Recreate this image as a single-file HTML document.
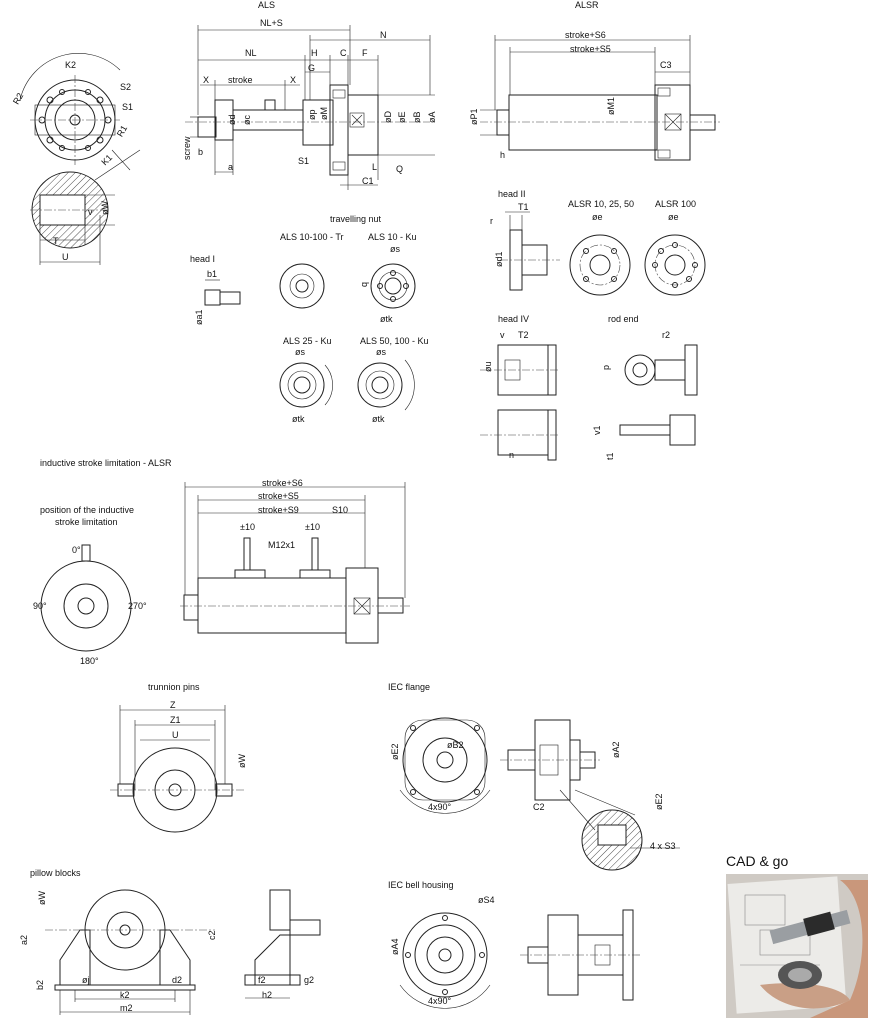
<!DOCTYPE html>
<html><head><meta charset="utf-8"><style>
html,body{margin:0;padding:0;background:#fff;}
svg{display:block;font-family:"Liberation Sans",sans-serif;}
text{font-size:9px;fill:#111;}
.s{stroke:#222;fill:none;stroke-width:1}
.t{stroke:#222;fill:none;stroke-width:0.6}
.w{stroke:#222;fill:#fff;stroke-width:1}
.d{stroke:#444;fill:none;stroke-width:0.6;stroke-dasharray:8 2 2 2}
</style></head><body>
<svg width="890" height="1034" viewBox="0 0 890 1034" xmlns="http://www.w3.org/2000/svg">
<defs>
<pattern id="h" width="5" height="5" patternUnits="userSpaceOnUse" patternTransform="rotate(45)"><line x1="0" y1="0" x2="0" y2="5" stroke="#222" stroke-width="0.8"/></pattern>
</defs>
<text x="258" y="8">ALS</text><text x="575" y="8">ALSR</text>

<!-- top-left flange -->
<circle cx="75" cy="120" r="40" class="s"/><circle cx="75" cy="120" r="30" class="s"/>
<circle cx="75" cy="120" r="20" class="s"/><circle cx="75" cy="120" r="5" class="s"/>
<rect x="35" y="105" width="80" height="30" class="t"/>
<g class="s"><circle cx="50" cy="100" r="3"/><circle cx="100" cy="100" r="3"/><circle cx="50" cy="140" r="3"/><circle cx="100" cy="140" r="3"/><circle cx="42" cy="120" r="3"/><circle cx="108" cy="120" r="3"/><circle cx="62" cy="92" r="2.5"/><circle cx="88" cy="92" r="2.5"/><circle cx="62" cy="148" r="2.5"/><circle cx="88" cy="148" r="2.5"/></g>
<line x1="30" y1="120" x2="120" y2="120" class="d"/><line x1="75" y1="75" x2="75" y2="165" class="d"/>
<path d="M20,100 A60,60 0 0 1 120,70" class="t"/><path d="M95,180 L140,150" class="t"/><path d="M112,150 L130,170" class="t"/>
<text x="65" y="68">K2</text><text x="120" y="90">S2</text><text x="122" y="110">S1</text><text x="12" y="105" transform="rotate(-60 15 100)">R2</text><text x="118" y="135" transform="rotate(-60 122 133)">R1</text><text x="103" y="165" transform="rotate(-45 105 163)">K1</text>
<circle cx="70" cy="210" r="38" class="s" style="fill:url(#h)"/>
<rect x="40" y="195" width="45" height="30" class="w"/>
<line x1="30" y1="210" x2="110" y2="210" class="d"/>
<line x1="40" y1="225" x2="40" y2="265" class="t"/><line x1="85" y1="225" x2="85" y2="245" class="t"/><line x1="100" y1="215" x2="100" y2="265" class="t"/>
<line x1="85" y1="195" x2="115" y2="195" class="t"/><line x1="85" y1="225" x2="115" y2="225" class="t"/>
<text x="88" y="215">v</text><text x="105" y="218" transform="rotate(-90 105 215)">øW</text>
<line x1="40" y1="240" x2="85" y2="240" class="t"/><text x="53" y="244">T</text>
<line x1="40" y1="262" x2="100" y2="262" class="t"/><text x="62" y="260">U</text>

<!-- ALS -->
<g>
<line x1="198" y1="30" x2="350" y2="30" class="t"/><text x="260" y="26">NL+S</text>
<line x1="198" y1="60" x2="305" y2="60" class="t"/><text x="245" y="56">NL</text>
<line x1="310" y1="40" x2="430" y2="40" class="t"/><text x="380" y="38">N</text>
<line x1="198" y1="25" x2="198" y2="115" class="t"/><line x1="350" y1="25" x2="350" y2="85" class="t"/>
<line x1="430" y1="35" x2="430" y2="95" class="t"/><line x1="310" y1="35" x2="310" y2="100" class="t"/>
<line x1="305" y1="55" x2="305" y2="100" class="t"/><line x1="330" y1="55" x2="330" y2="85" class="t"/><line x1="348" y1="55" x2="348" y2="85" class="t"/><line x1="378" y1="55" x2="378" y2="95" class="t"/>
<line x1="305" y1="60" x2="378" y2="60" class="t"/><line x1="305" y1="72" x2="330" y2="72" class="t"/>
<text x="311" y="56">H</text><text x="340" y="56">C</text><text x="362" y="56">F</text><text x="308" y="71">G</text>
<line x1="200" y1="85" x2="300" y2="85" class="t"/><text x="203" y="83">X</text><text x="228" y="83">stroke</text><text x="290" y="83">X</text>
<line x1="215" y1="80" x2="215" y2="100" class="t"/><line x1="285" y1="80" x2="285" y2="110" class="t"/>
<rect x="198" y="117" width="18" height="20" class="s"/><rect x="215" y="100" width="18" height="40" class="s"/>
<rect x="233" y="110" width="70" height="20" class="s"/><rect x="265" y="100" width="10" height="10" class="s"/>
<rect x="303" y="100" width="30" height="45" class="s"/><rect x="330" y="85" width="18" height="90" class="s"/>
<rect x="348" y="95" width="30" height="60" class="s"/>
<rect x="333" y="90" width="12" height="8" class="t"/><rect x="333" y="162" width="12" height="8" class="t"/>
<path d="M352,115 L362,125 M362,115 L352,125" class="t"/><rect x="350" y="113" width="14" height="14" class="t"/>
<line x1="378" y1="95" x2="435" y2="95" class="t"/><line x1="378" y1="155" x2="435" y2="155" class="t"/>
<line x1="185" y1="122" x2="430" y2="122" class="d"/>
<line x1="215" y1="140" x2="215" y2="175" class="t"/><line x1="233" y1="140" x2="233" y2="175" class="t"/><line x1="215" y1="172" x2="233" y2="172" class="t"/>
<line x1="190" y1="137" x2="215" y2="137" class="t"/><line x1="190" y1="117" x2="198" y2="117" class="t"/>
<line x1="348" y1="155" x2="348" y2="190" class="t"/><line x1="378" y1="155" x2="378" y2="180" class="t"/><line x1="340" y1="185" x2="378" y2="185" class="t"/>
<text x="230" y="130" transform="rotate(-90 230 125)">ød</text><text x="245" y="130" transform="rotate(-90 245 125)">øc</text>
<text x="310" y="125" transform="rotate(-90 310 120)">øp</text><text x="322" y="125" transform="rotate(-90 322 120)">øM</text>
<text x="386" y="128" transform="rotate(-90 386 123)">øD</text><text x="400" y="128" transform="rotate(-90 400 123)">øE</text>
<text x="415" y="128" transform="rotate(-90 415 123)">øB</text><text x="430" y="128" transform="rotate(-90 430 123)">øA</text>
<text x="180" y="170" transform="rotate(-90 180 160)">screw</text><text x="198" y="155">b</text><text x="228" y="170">a</text>
<text x="298" y="164">S1</text><text x="372" y="170">L</text><text x="362" y="184">C1</text><text x="396" y="172">Q</text>
</g>

<!-- ALSR -->
<line x1="495" y1="40" x2="690" y2="40" class="t"/><text x="565" y="38">stroke+S6</text>
<line x1="510" y1="52" x2="655" y2="52" class="t"/><text x="570" y="52">stroke+S5</text>
<line x1="495" y1="35" x2="495" y2="110" class="t"/><line x1="690" y1="35" x2="690" y2="85" class="t"/>
<line x1="510" y1="47" x2="510" y2="95" class="t"/><line x1="655" y1="47" x2="655" y2="85" class="t"/>
<line x1="655" y1="72" x2="690" y2="72" class="t"/>
<text x="660" y="68">C3</text>
<rect x="497" y="110" width="12" height="25" class="s"/>
<rect x="509" y="95" width="148" height="55" class="s"/>
<rect x="655" y="85" width="35" height="75" class="s"/>
<rect x="690" y="115" width="25" height="15" class="s"/>
<rect x="658" y="88" width="12" height="8" class="t"/><rect x="658" y="150" width="12" height="8" class="t"/>
<rect x="665" y="114" width="16" height="16" class="t"/><path d="M665,114 L681,130 M681,114 L665,130" class="t"/>
<line x1="480" y1="122" x2="720" y2="122" class="d"/>
<line x1="480" y1="110" x2="497" y2="110" class="t"/><line x1="480" y1="135" x2="497" y2="135" class="t"/>
<text x="470" y="132" transform="rotate(-90 470 125)">øP1</text><text x="604" y="125" transform="rotate(-90 604 115)">øM1</text><text x="500" y="158">h</text>

<!-- heads -->
<text x="498" y="197">head II</text><text x="518" y="210">T1</text><text x="490" y="224">r</text>
<rect x="510" y="230" width="12" height="60" class="s"/><rect x="522" y="245" width="25" height="30" class="s"/>
<line x1="510" y1="215" x2="510" y2="230" class="t"/><line x1="522" y1="215" x2="522" y2="230" class="t"/><line x1="505" y1="212" x2="530" y2="212" class="t"/>
<line x1="500" y1="260" x2="560" y2="260" class="d"/>
<text x="490" y="275" transform="rotate(-90 492 265)">ød1</text>
<text x="568" y="207">ALSR 10, 25, 50</text><text x="655" y="207">ALSR 100</text>
<text x="592" y="220">øe</text><text x="668" y="220">øe</text>
<circle cx="600" cy="265" r="30" class="s"/><circle cx="600" cy="265" r="10" class="s"/><circle cx="600" cy="265" r="20" class="d"/>
<circle cx="586" cy="251" r="2.5" class="s"/><circle cx="614" cy="251" r="2.5" class="s"/><circle cx="586" cy="279" r="2.5" class="s"/><circle cx="614" cy="279" r="2.5" class="s"/>
<circle cx="675" cy="265" r="30" class="s"/><circle cx="675" cy="265" r="10" class="s"/><circle cx="675" cy="265" r="20" class="d"/>
<circle cx="675" cy="245" r="2.5" class="s"/><circle cx="675" cy="285" r="2.5" class="s"/><circle cx="655" cy="265" r="2.5" class="s"/><circle cx="695" cy="265" r="2.5" class="s"/><circle cx="661" cy="251" r="2.5" class="s"/><circle cx="689" cy="279" r="2.5" class="s"/>
<text x="498" y="322">head IV</text><text x="608" y="322">rod end</text>
<rect x="498" y="345" width="50" height="50" class="s"/><rect x="548" y="345" width="8" height="50" class="s"/>
<rect x="505" y="360" width="15" height="20" class="t"/>
<rect x="498" y="410" width="50" height="45" class="s"/><rect x="548" y="410" width="8" height="50" class="s"/>
<line x1="480" y1="370" x2="560" y2="370" class="d"/><line x1="480" y1="435" x2="560" y2="435" class="d"/>
<text x="485" y="378" transform="rotate(-90 485 372)">øu</text><text x="509" y="458">n</text>
<text x="500" y="338">v</text><text x="518" y="338">T2</text>
<circle cx="640" cy="370" r="15" class="s"/><circle cx="640" cy="370" r="7" class="s"/><rect x="655" y="360" width="30" height="20" class="s"/><rect x="685" y="345" width="12" height="50" class="s"/>
<rect x="620" y="425" width="50" height="10" class="s"/><rect x="670" y="415" width="25" height="30" class="s"/>
<text x="662" y="338">r2</text><text x="607" y="372" transform="rotate(-90 607 370)">p</text>
<text x="595" y="440" transform="rotate(-90 595 435)">v1</text><text x="608" y="465" transform="rotate(-90 608 460)">t1</text>

<!-- head I + travelling nut -->
<text x="190" y="262">head I</text><text x="207" y="277">b1</text>
<rect x="205" y="290" width="15" height="15" class="s"/><rect x="220" y="292" width="20" height="12" class="s"/>
<line x1="205" y1="280" x2="220" y2="280" class="t"/>
<text x="192" y="335" transform="rotate(-90 192 325)">øa1</text>
<text x="330" y="222">travelling nut</text><text x="280" y="240">ALS 10-100 - Tr</text><text x="368" y="240">ALS 10 - Ku</text>
<circle cx="302" cy="286" r="22" class="s"/><circle cx="302" cy="286" r="12" class="t"/><circle cx="302" cy="286" r="6" class="s"/>
<circle cx="393" cy="286" r="22" class="s"/><circle cx="393" cy="286" r="8" class="s"/><circle cx="393" cy="286" r="14" class="t"/>
<circle cx="380" cy="286" r="2.5" class="s"/><circle cx="406" cy="286" r="2.5" class="s"/><circle cx="393" cy="273" r="2.5" class="s"/><circle cx="393" cy="299" r="2.5" class="s"/>
<text x="390" y="252">øs</text><text x="380" y="322">øtk</text><text x="360" y="290" transform="rotate(-90 362 285)">q</text>
<text x="283" y="344">ALS 25 - Ku</text><text x="360" y="344">ALS 50, 100 - Ku</text>
<circle cx="302" cy="385" r="22" class="s"/><circle cx="302" cy="385" r="8" class="s"/><circle cx="302" cy="385" r="14" class="t"/>
<circle cx="380" cy="385" r="22" class="s"/><circle cx="380" cy="385" r="8" class="s"/><circle cx="380" cy="385" r="14" class="t"/>
<path d="M325,365 A30,30 0 0 1 325,405" class="t"/><path d="M405,360 A38,38 0 0 1 405,410" class="t"/>
<text x="295" y="355">øs</text><text x="376" y="355">øs</text><text x="292" y="422">øtk</text><text x="372" y="422">øtk</text>

<!-- inductive -->
<text x="40" y="466">inductive stroke limitation - ALSR</text>
<text x="40" y="513">position of the inductive</text><text x="55" y="525">stroke limitation</text>
<circle cx="86" cy="606" r="45" class="s"/><circle cx="86" cy="606" r="22" class="s"/><circle cx="86" cy="606" r="8" class="s"/>
<rect x="82" y="545" width="8" height="16" class="s"/>
<text x="72" y="553">0°</text><text x="33" y="609">90°</text><text x="128" y="609">270°</text><text x="80" y="664">180°</text>
<line x1="185" y1="487" x2="405" y2="487" class="t"/><text x="262" y="486">stroke+S6</text>
<line x1="198" y1="500" x2="365" y2="500" class="t"/><text x="258" y="499">stroke+S5</text>
<line x1="198" y1="513" x2="365" y2="513" class="t"/><text x="258" y="513">stroke+S9</text><text x="332" y="513">S10</text>
<line x1="185" y1="482" x2="185" y2="595" class="t"/><line x1="198" y1="495" x2="198" y2="578" class="t"/><line x1="405" y1="482" x2="405" y2="598" class="t"/><line x1="365" y1="495" x2="365" y2="568" class="t"/>
<text x="240" y="530">±10</text><text x="305" y="530">±10</text><text x="268" y="548">M12x1</text>
<rect x="184" y="595" width="14" height="25" class="s"/><rect x="198" y="578" width="148" height="55" class="s"/>
<rect x="235" y="570" width="30" height="8" class="s"/><rect x="300" y="570" width="30" height="8" class="s"/>
<rect x="244" y="538" width="6" height="32" class="s"/><rect x="312" y="538" width="6" height="32" class="s"/>
<rect x="346" y="568" width="32" height="75" class="s"/><rect x="378" y="598" width="25" height="15" class="s"/>
<rect x="354" y="598" width="16" height="16" class="t"/><path d="M354,598 L370,614 M370,598 L354,614" class="t"/>
<line x1="180" y1="606" x2="410" y2="606" class="d"/>

<!-- trunnion -->
<text x="148" y="690">trunnion pins</text>
<line x1="120" y1="710" x2="225" y2="710" class="t"/><text x="170" y="708">Z</text>
<line x1="135" y1="725" x2="215" y2="725" class="t"/><text x="170" y="723">Z1</text>
<line x1="140" y1="740" x2="210" y2="740" class="t"/><text x="172" y="738">U</text>
<line x1="120" y1="705" x2="120" y2="784" class="t"/><line x1="225" y1="705" x2="225" y2="784" class="t"/>
<line x1="135" y1="720" x2="135" y2="790" class="t"/><line x1="215" y1="720" x2="215" y2="790" class="t"/>
<circle cx="175" cy="790" r="42" class="s"/><circle cx="175" cy="790" r="20" class="s"/><circle cx="175" cy="790" r="6" class="s"/>
<rect x="118" y="784" width="16" height="12" class="s"/><rect x="216" y="784" width="16" height="12" class="s"/>
<line x1="110" y1="790" x2="245" y2="790" class="d"/>
<text x="238" y="775" transform="rotate(-90 238 768)">øW</text>

<!-- IEC flange -->
<text x="388" y="690">IEC flange</text>
<circle cx="445" cy="760" r="42" class="s"/><circle cx="445" cy="760" r="22" class="s"/><circle cx="445" cy="760" r="8" class="s"/>
<rect x="405" y="720" width="80" height="80" rx="18" class="t"/>
<circle cx="413" cy="728" r="2.5" class="s"/><circle cx="477" cy="728" r="2.5" class="s"/><circle cx="413" cy="792" r="2.5" class="s"/><circle cx="477" cy="792" r="2.5" class="s"/>
<path d="M400,790 A55,55 0 0 0 490,790" class="t"/>
<text x="388" y="770" transform="rotate(-90 388 760)">øE2</text><text x="447" y="748">øB2</text><text x="428" y="810">4x90°</text>
<rect x="535" y="720" width="35" height="80" class="s"/><rect x="570" y="740" width="10" height="40" class="s"/>
<rect x="508" y="750" width="27" height="20" class="s"/><rect x="580" y="752" width="15" height="16" class="s"/>
<rect x="540" y="745" width="18" height="30" class="t"/>
<line x1="500" y1="760" x2="600" y2="760" class="d"/>
<line x1="560" y1="790" x2="595" y2="830" class="t"/><line x1="575" y1="790" x2="635" y2="815" class="t"/>
<text x="612" y="765" transform="rotate(-90 612 758)">øA2</text><text x="533" y="810">C2</text>
<circle cx="612" cy="840" r="30" class="s" style="fill:url(#h)"/><rect x="598" y="825" width="28" height="20" class="w"/>
<line x1="630" y1="848" x2="680" y2="848" class="t"/>
<text x="652" y="820" transform="rotate(-90 652 810)">øE2</text><text x="650" y="849">4 x S3</text>

<!-- pillow blocks -->
<text x="30" y="876">pillow blocks</text>
<circle cx="125" cy="930" r="40" class="s"/><circle cx="125" cy="930" r="18" class="s"/><circle cx="125" cy="930" r="5" class="s"/>
<path d="M60,985 L60,960 L80,930 L90,930 L90,985 Z M160,985 L160,930 L170,930 L190,960 L190,985 Z" class="s"/>
<rect x="55" y="985" width="140" height="5" class="s"/>
<line x1="45" y1="930" x2="215" y2="930" class="d"/>
<line x1="60" y1="990" x2="60" y2="1015" class="t"/><line x1="190" y1="990" x2="190" y2="1015" class="t"/><line x1="60" y1="1012" x2="190" y2="1012" class="t"/>
<line x1="75" y1="990" x2="75" y2="1002" class="t"/><line x1="175" y1="990" x2="175" y2="1002" class="t"/><line x1="75" y1="999" x2="175" y2="999" class="t"/>
<text x="38" y="912" transform="rotate(-90 38 905)">øW</text><text x="22" y="950" transform="rotate(-90 22 945)">a2</text>
<text x="38" y="995" transform="rotate(-90 38 990)">b2</text><text x="205" y="950" transform="rotate(-90 205 940)">c2</text>
<text x="82" y="983">øj</text><text x="172" y="983">d2</text><text x="120" y="998">k2</text><text x="120" y="1011">m2</text>
<rect x="270" y="890" width="20" height="40" class="s"/><rect x="290" y="920" width="30" height="15" class="s"/>
<path d="M255,985 L255,960 L280,935 L290,935 L290,985 Z" class="s"/><rect x="245" y="975" width="55" height="10" class="s"/>
<line x1="245" y1="998" x2="290" y2="998" class="t"/>
<text x="258" y="983">f2</text><text x="262" y="998">h2</text><text x="304" y="983">g2</text>

<!-- IEC bell housing -->
<text x="388" y="888">IEC bell housing</text><text x="478" y="903">øS4</text>
<circle cx="445" cy="955" r="42" class="s"/><circle cx="445" cy="955" r="30" class="s"/><circle cx="445" cy="955" r="18" class="s"/><circle cx="445" cy="955" r="6" class="s"/>
<circle cx="445" cy="918" r="2.5" class="s"/><circle cx="445" cy="992" r="2.5" class="s"/><circle cx="408" cy="955" r="2.5" class="s"/><circle cx="482" cy="955" r="2.5" class="s"/>
<path d="M400,985 A55,55 0 0 0 490,985" class="t"/>
<text x="388" y="965" transform="rotate(-90 388 955)">øA4</text><text x="428" y="1004">4x90°</text>
<rect x="548" y="915" width="30" height="80" class="s"/><rect x="578" y="935" width="45" height="40" class="s"/>
<rect x="623" y="910" width="10" height="90" class="s"/><rect x="528" y="947" width="20" height="16" class="s"/>
<rect x="595" y="945" width="15" height="20" class="t"/>
<line x1="520" y1="955" x2="640" y2="955" class="d"/>

<!-- CAD & go -->
<text x="726" y="866" style="font-size:14px">CAD &amp; go</text>
<rect x="726" y="874" width="142" height="144" fill="#cfcac4"/>
<rect x="732" y="880" width="110" height="130" fill="#ecebe8" transform="rotate(-4 787 945)"/>
<g stroke="#888" stroke-width="0.6" fill="none"><rect x="745" y="895" width="40" height="30"/><rect x="760" y="930" width="50" height="25"/><line x1="740" y1="965" x2="820" y2="965"/></g>
<path d="M840,880 C868,900 868,960 850,1000 L810,1018 L868,1018 L868,880 Z" fill="#c9977b"/>
<path d="M760,985 C780,1010 820,1015 850,1000 C840,985 800,980 760,985 Z" fill="#c99f86"/>
<rect x="770" y="920" width="80" height="14" fill="#9a9ea2" transform="rotate(-15 810 927)"/>
<rect x="805" y="915" width="28" height="18" fill="#2b2b2b" transform="rotate(-15 819 924)"/>
<ellipse cx="800" cy="975" rx="22" ry="14" fill="#555"/>
<ellipse cx="800" cy="975" rx="12" ry="7" fill="#aaa"/>
</svg>
</body></html>
